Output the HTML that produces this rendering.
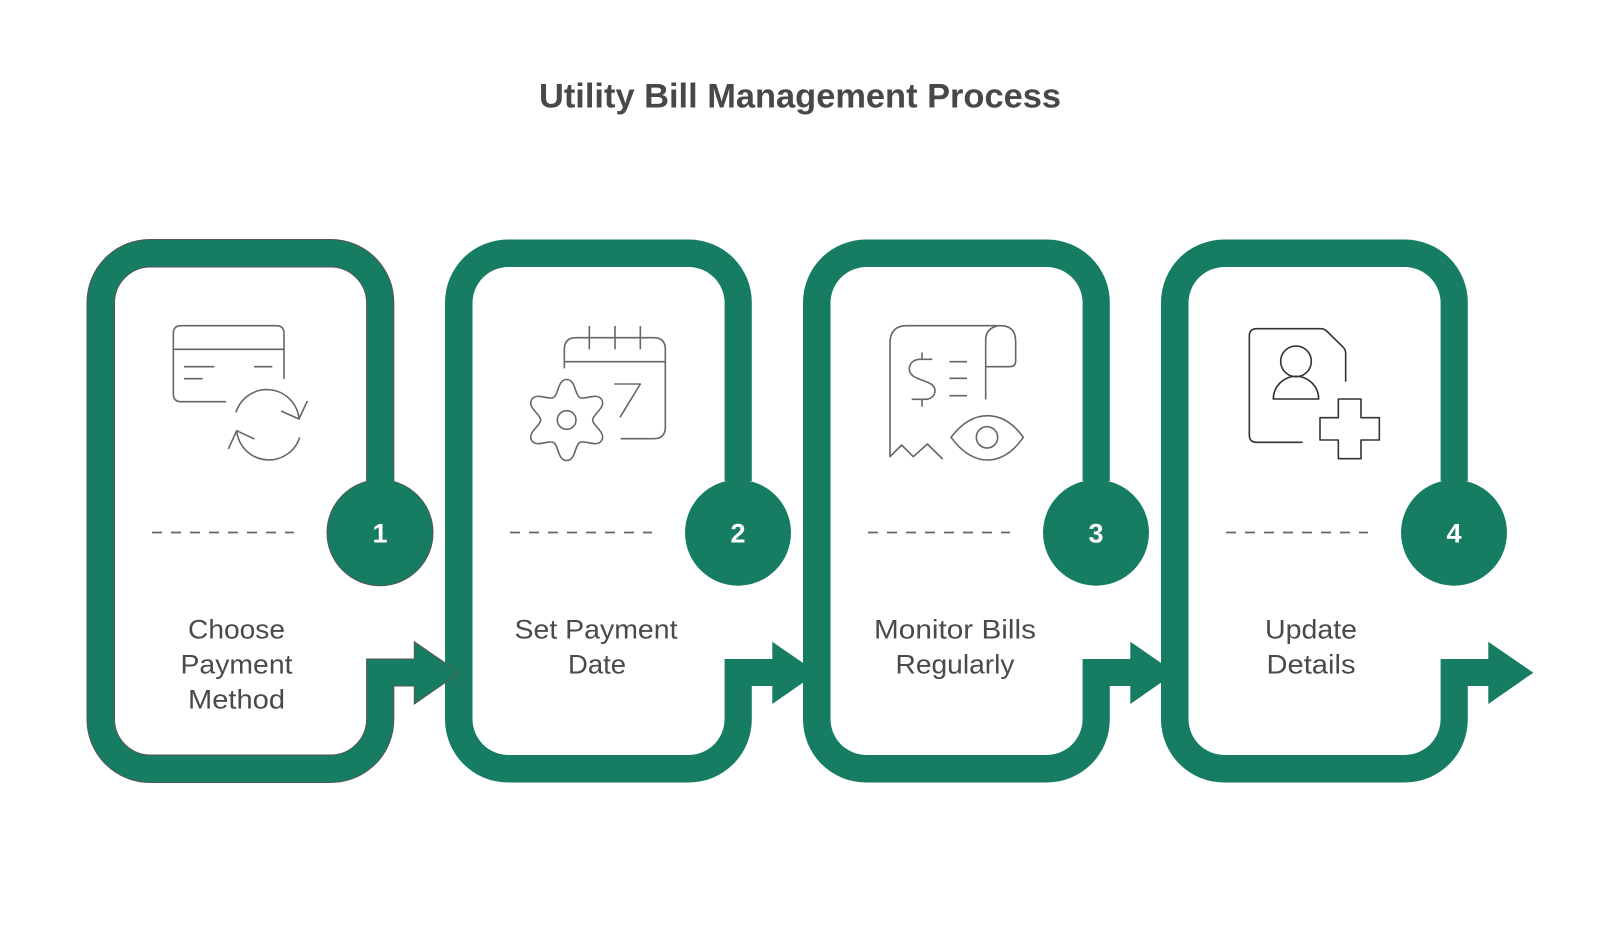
<!DOCTYPE html>
<html><head><meta charset="utf-8"><style>
html,body{margin:0;padding:0;background:#fff}
svg{display:block}
text{font-family:"Liberation Sans",sans-serif;fill:#4a4a4a;text-anchor:middle}
.l{font-size:27px}
.n{font-size:27px;font-weight:bold;fill:#fff}
.i{fill:none;stroke:#666;stroke-width:4.8;stroke-linecap:butt;stroke-linejoin:round}
</style></head><body>
<svg width="1600" height="926" viewBox="0 0 1600 926" xmlns="http://www.w3.org/2000/svg">
<defs>
<path id="c" d="M393.800 481V302A63 63 0 0 0 330.800 239.500H150A63 63 0 0 0 87 302V719.500A63 63 0 0 0 150 782.500H330.800A63 63 0 0 0 393.800 719.500V686H414.300V704L459.300 672.700L414.300 641.700V659H366.600V719A36 36 0 0 1 330.600 755H150.500A36 36 0 0 1 114.500 719V303A36 36 0 0 1 150.500 267H330.600A36 36 0 0 1 366.600 303V481Z"/>
</defs>
<text x="800" y="107.300" font-size="34" font-weight="bold" textLength="522" lengthAdjust="spacingAndGlyphs" style="fill:#484848">Utility Bill Management Process</text>

<g fill="#177d62">
<use href="#c" x="1074"/><circle cx="1454" cy="532.700" r="53"/>
<use href="#c" x="716"/><circle cx="1096" cy="532.700" r="53"/>
<use href="#c" x="358"/><circle cx="738" cy="532.700" r="53"/>
<g stroke="#555" stroke-width="1"><circle cx="380" cy="532.700" r="53"/><use href="#c"/></g>
<path d="M367.100 470H393.300V490H367.100Z"/>
</g>

<g stroke="#666" stroke-width="1.800" stroke-dasharray="10 9" fill="none">
<path d="M152 532.500H294"/><path d="M510 532.500H652"/><path d="M868 532.500H1010"/><path d="M1226 532.500H1368"/>
</g>

<text class="n" x="380" y="542.500">1</text>
<text class="n" x="738" y="542.500">2</text>
<text class="n" x="1096" y="542.500">3</text>
<text class="n" x="1454" y="542.500">4</text>

<text class="l" x="236.500" y="638.700" textLength="97" lengthAdjust="spacingAndGlyphs">Choose</text>
<text class="l" x="236.500" y="673.700" textLength="112" lengthAdjust="spacingAndGlyphs">Payment</text>
<text class="l" x="236.500" y="708.700" textLength="97" lengthAdjust="spacingAndGlyphs">Method</text>
<text class="l" x="596" y="638.700" textLength="163" lengthAdjust="spacingAndGlyphs">Set Payment</text>
<text class="l" x="597" y="673.700" textLength="58" lengthAdjust="spacingAndGlyphs">Date</text>
<text class="l" x="955" y="638.700" textLength="162" lengthAdjust="spacingAndGlyphs">Monitor Bills</text>
<text class="l" x="955" y="673.700" textLength="119" lengthAdjust="spacingAndGlyphs">Regularly</text>
<text class="l" x="1311" y="638.700" textLength="92" lengthAdjust="spacingAndGlyphs">Update</text>
<text class="l" x="1311" y="673.700" textLength="89" lengthAdjust="spacingAndGlyphs">Details</text>

<!-- card icon -->
<g class="i" transform="translate(150 300) scale(.33333)">
<path d="M402 237V100Q402 77 379 77H93Q70 77 70 100V282Q70 305 93 305H228"/>
<path d="M70 148H402M102 200H193M312 200H367M102 236H158"/>
<path d="M258 337A97 97 0 0 1 447 355"/>
<path d="M393 333L447 357L472 303"/>
<path d="M449 412A97 97 0 0 1 260 392"/>
<path d="M235 447L260 392L313 417"/>
</g>

<!-- calendar icon -->
<g class="i" transform="translate(500 300) scale(.33333)">
<path d="M193 205V148Q193 113 228 113H461Q496 113 496 148V381Q496 416 461 416H362"/>
<path d="M193 185H496M268 78V148M345 78V148M421 78V148"/>
<path d="M343 252H421L360 352"/>
<circle cx="200" cy="360" r="28"/>
<g transform="translate(200 360) scale(3)" style="stroke-width:1.600">
<path d="M-13 -22.500C-8 -25.400 -9 -40.500 0 -40.500C9 -40.500 8 -25.400 13 -22.500"/>
<path transform="rotate(60)" d="M-13 -22.500C-8 -25.400 -9 -40.500 0 -40.500C9 -40.500 8 -25.400 13 -22.500"/>
<path transform="rotate(120)" d="M-13 -22.500C-8 -25.400 -9 -40.500 0 -40.500C9 -40.500 8 -25.400 13 -22.500"/>
<path transform="rotate(180)" d="M-13 -22.500C-8 -25.400 -9 -40.500 0 -40.500C9 -40.500 8 -25.400 13 -22.500"/>
<path transform="rotate(240)" d="M-13 -22.500C-8 -25.400 -9 -40.500 0 -40.500C9 -40.500 8 -25.400 13 -22.500"/>
<path transform="rotate(300)" d="M-13 -22.500C-8 -25.400 -9 -40.500 0 -40.500C9 -40.500 8 -25.400 13 -22.500"/>
</g>
</g>

<!-- receipt icon -->
<g class="i" transform="translate(850 300) scale(.33333)">
<path d="M278 477L232 432L190 470L155 435L120 470V130Q120 77 170 77H452Q497 77 497 125V182Q497 200 480 200H407"/>
<path d="M407 298V120Q407 85 445 77"/>
<path d="M247 178H212C190 178 178 190 178 207C178 225 195 233 215 240C238 248 255 255 255 272C255 288 242 298 225 298H185"/>
<path d="M216 157V178M216 298V320M298 185H351M298 235H351M298 287H351"/>
<path d="M303 412C335 370 370 347 412 347C455 347 490 370 520 412C490 455 455 480 412 480C370 480 335 455 303 412Z"/>
<circle cx="411" cy="412" r="32"/>
</g>

<!-- user doc icon -->
<g class="i" style="stroke:#333" transform="translate(1200 300) scale(.33333)">
<path d="M308 427H170Q148 427 148 405V108Q148 86 170 86H362Q372 86 380 93L428 140Q437 148 437 160V245"/>
<circle cx="288" cy="184" r="46"/>
<path d="M220 297A68 68 0 0 1 356 297Z"/>
<path d="M415 297H483V353H538V420H483V476H415V420H360V353H415Z"/>
</g>
</svg>
</body></html>
